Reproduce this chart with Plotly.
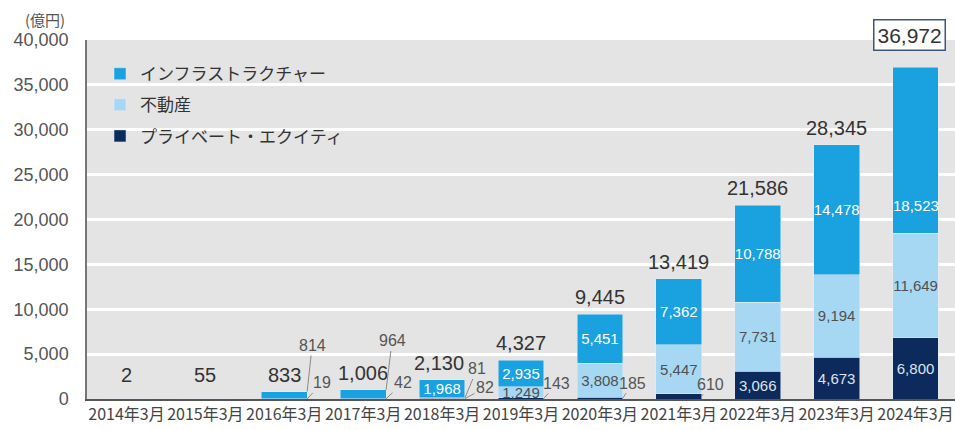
import plotly.graph_objects as go

categories = ["2014年3月", "2015年3月", "2016年3月", "2017年3月", "2018年3月", "2019年3月",
              "2020年3月", "2021年3月", "2022年3月", "2023年3月", "2024年3月"]
infra = [2, 55, 814, 964, 1968, 2935, 5451, 7362, 10788, 14478, 18523]
real_estate = [0, 0, 0, 0, 81, 1249, 3808, 5447, 7731, 9194, 11649]
private_equity = [0, 0, 19, 42, 82, 143, 185, 610, 3066, 4673, 6800]
totals = [2, 55, 833, 1006, 2130, 4327, 9445, 13419, 21586, 28345, 36972]

# which segment values are written inside the bars
infra_in = [v >= 1900 for v in infra]
re_in = [v >= 1000 for v in real_estate]
pe_in = [v >= 1000 for v in private_equity]

C_INFRA = "#1aa1e0"
C_RE = "#a6d8f4"
C_PE = "#0c2b5c"
NUM_FONT = "Liberation Sans Narrow, Liberation Sans, Arial"
JP_FONT = "Noto Sans CJK JP"

def fmt(v):
    return f"{v:,}"

fig = go.Figure()
fig.add_trace(go.Bar(
    x=categories, y=private_equity, name="プライベート・エクイティ",
    marker=dict(color=C_PE), legendrank=3, legendgroup="pe",
    text=[fmt(v) if s else "" for v, s in zip(private_equity, pe_in)],
    textposition="inside", insidetextanchor="middle", textangle=0,
    textfont=dict(color="#dfe3ea", size=15, family=NUM_FONT)))
fig.add_trace(go.Bar(
    x=categories, y=real_estate, name="不動産",
    marker=dict(color=C_RE), legendrank=2, legendgroup="re",
    text=[fmt(v) if s else "" for v, s in zip(real_estate, re_in)],
    textposition="inside", insidetextanchor="middle", textangle=0,
    textfont=dict(color="#505050", size=15, family=NUM_FONT)))
last = len(categories) - 1
fig.add_trace(go.Bar(
    x=categories, y=infra, name="インフラストラクチャー",
    marker=dict(color=C_INFRA), legendrank=1, legendgroup="infra",
    text=[fmt(v) if (s and i != last) else "" for i, (v, s) in enumerate(zip(infra, infra_in))],
    textposition="inside", insidetextanchor="middle", textangle=0,
    textfont=dict(color="white", size=15, family=NUM_FONT)))

annotations = []
# totals above bars
for i, t in enumerate(totals):
    if i == last:
        annotations.append(dict(
            x=i, y=t, xref="x", yref="y", text=fmt(t), showarrow=False,
            yanchor="middle", yshift=32, xshift=-6,
            font=dict(size=21, color="#333", family="Liberation Sans, Arial"),
            bordercolor="#3d5779", borderwidth=1.5, bgcolor="white", borderpad=3))
    else:
        xs = -3 if i == 4 else 0
        annotations.append(dict(
            x=i, y=max(t, 800), xref="x", yref="y", text=fmt(t), showarrow=False,
            yanchor="middle", yshift=17, xshift=xs,
            font=dict(size=20, color="#333", family="Liberation Sans, Arial")))

# infra label for the last bar (sits in the lower part of its segment)
base_last = private_equity[last] + real_estate[last]
annotations.append(dict(
    x=last, y=base_last + infra[last] * 0.17, xref="x", yref="y", text=fmt(infra[last]),
    showarrow=False, font=dict(color="white", size=15, family=NUM_FONT)))

# callouts for small segments: (index, value, point y, ax, ay)
callouts = [
    (2, infra[2], totals[2], 5, -46),
    (2, private_equity[2], private_equity[2] / 2, 15, -16),
    (3, infra[3], totals[3], 6, -49),
    (3, private_equity[3], private_equity[3] / 2, 17, -16),
    (4, real_estate[4], private_equity[4] + real_estate[4] / 2, 12, -29),
    (4, private_equity[4], private_equity[4] / 2, 20, -11),
    (5, private_equity[5], private_equity[5] / 2, 13, -15),
    (6, private_equity[6], private_equity[6] / 2, 10, -15),
    (7, private_equity[7], private_equity[7] / 2, 9, -12),
]
for i, v, py, ax, ay in callouts:
    annotations.append(dict(
        x=i + 0.29, y=py, xref="x", yref="y", text=fmt(v),
        showarrow=True, arrowhead=0, arrowwidth=1, arrowcolor="#8a8a8a",
        ax=ax, ay=ay, font=dict(size=16, color="#555", family=NUM_FONT)))

annotations.append(dict(
    x=-0.048, y=1.058, xref="paper", yref="paper", xanchor="center", yanchor="middle",
    text="(億円)", showarrow=False,
    font=dict(size=15, color="#555", family=JP_FONT)))

fig.update_layout(
    width=955, height=430,
    margin=dict(l=87, r=0, t=40, b=31),
    barmode="stack", bargap=0.42,
    plot_bgcolor="#e4e4e4", paper_bgcolor="white",
    uniformtext=dict(minsize=15, mode="show"),
    showlegend=True,
    legend=dict(
        x=0.015, y=0.955, xanchor="left", yanchor="top",
        traceorder="grouped", tracegroupgap=6,
        bgcolor="rgba(0,0,0,0)", itemwidth=30,
        font=dict(size=17, color="#333", family=JP_FONT)),
    annotations=annotations,
    xaxis=dict(
        type="category", showgrid=False, showline=True, linecolor="#555", linewidth=1.5,
        ticks="", tickfont=dict(size=16, color="#444", family=JP_FONT)),
    yaxis=dict(
        range=[0, 40000], dtick=5000, tickformat=",", showgrid=True,
        gridcolor="white", gridwidth=2.5, showline=True, linecolor="#777", linewidth=1.5,
        zeroline=False, ticks="", ticklabelstandoff=13,
        tickfont=dict(size=18, color="#555", family="Liberation Sans, Arial")),
)

fig.write_html("out.html")
